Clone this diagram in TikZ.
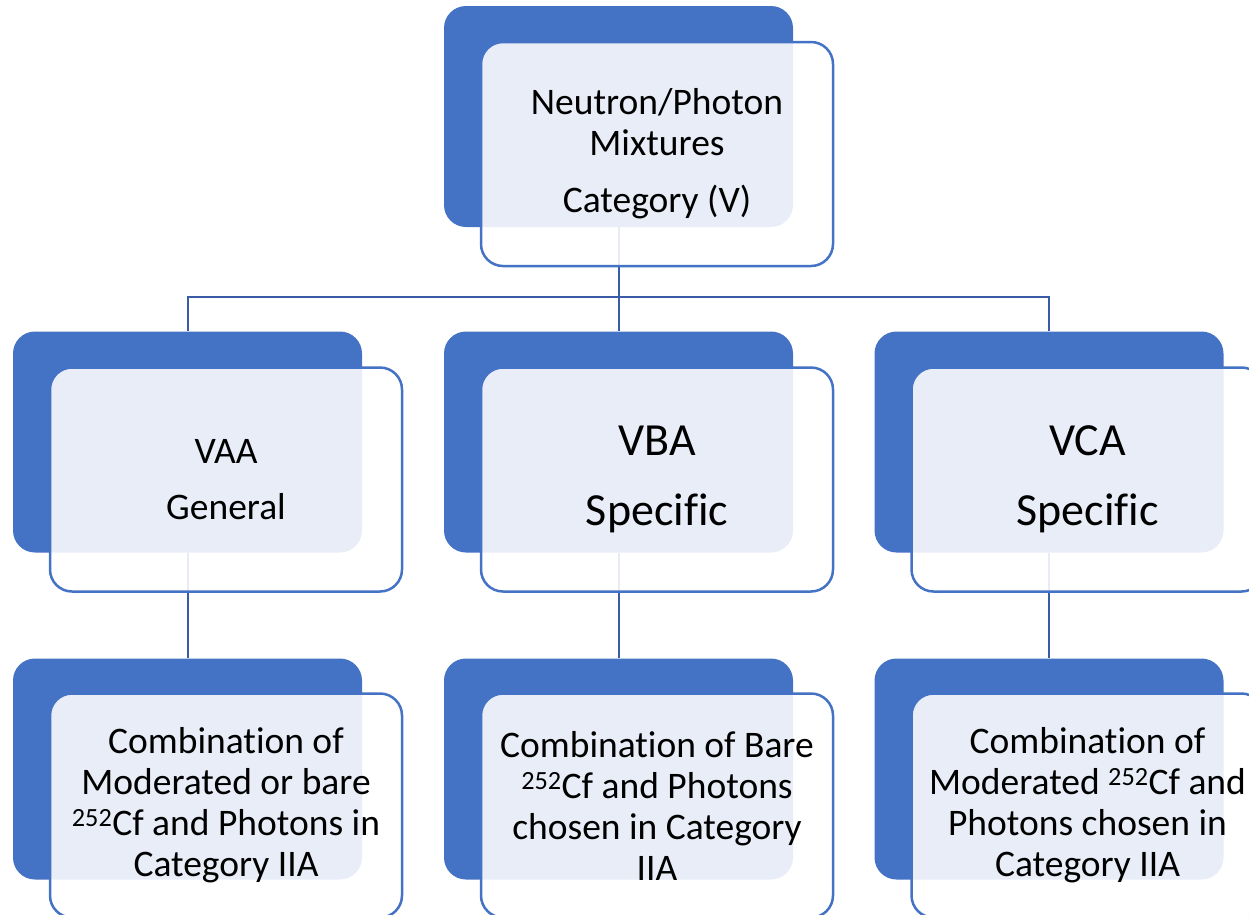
\documentclass[tikz,border=0pt]{standalone}
\usepackage{fontspec}
\setmainfont{Carlito}[Ligatures=NoCommon]
\usetikzlibrary{positioning}
\definecolor{cardblue}{HTML}{4472C4}
\definecolor{linkblue}{HTML}{3A5BA6}

\begin{document}
\begin{tikzpicture}[x=1pt,y=-1pt,
    backcard/.style={fill=cardblue, rounded corners=22pt, minimum width=349pt, minimum height=221pt, inner sep=0pt},
    frontcard/.style={draw=cardblue, line width=2.5pt, fill=white, fill opacity=0.88, text opacity=1, rounded corners=22pt, minimum width=352pt, minimum height=224pt, inner sep=0pt, align=center, font=\fontsize{37.5}{41}\selectfont},
    bigcard/.style={frontcard, font=\fontsize{46}{54}\selectfont},
    link/.style={draw=linkblue, line width=2pt}]
  \useasboundingbox (0,0) rectangle (1249,914);
  \clip (0,0) rectangle (1249,914);
  % back cards
  \node[backcard] (top-bk) at (618.5,116.5) {};
  \foreach \x/\name in {187.5/vaa, 618.5/vba, 1049/vca}{
    \node[backcard] (\name-bk) at (\x,442) {};
    \node[backcard] (\name-mix-bk) at (\x,769) {};
  }
  % links
  \coordinate (bus) at (618.5,297);
  \draw[link] (top-bk.south) -- (bus);
  \draw[link] (vaa-bk.north) |- (bus) -| (vca-bk.north);
  \draw[link] (bus) -- (vba-bk.north);
  \foreach \name in {vaa,vba,vca}
    \draw[link] (\name-bk.south) -- (\name-mix-bk.north);
  % front cards
  \node[frontcard] (top) at (657,154) {Neutron/Photon\\Mixtures\\[16pt]Category (V)};
  \node[frontcard] (vaa) at (226,479.5) {VAA\\[15pt]General};
  \node[bigcard] (vba) at (657,479.5) {VBA\\[16pt]Specific};
  \node[bigcard] (vca) at (1087.5,479.5) {VCA\\[16pt]Specific};
  \node[frontcard] (vaa-mix) at (226,805.5) {Combination of\\Moderated or bare\\\textsuperscript{252}Cf and Photons in\\Category IIA};
  \node[frontcard] (vba-mix) at (657,805.5) {Combination of Bare\\\textsuperscript{252}Cf and Photons\\chosen in Category\\IIA};
  \node[frontcard] (vca-mix) at (1087.5,805.5) {Combination of\\Moderated \textsuperscript{252}Cf and\\Photons chosen in\\Category IIA};
\end{tikzpicture}
\end{document}
